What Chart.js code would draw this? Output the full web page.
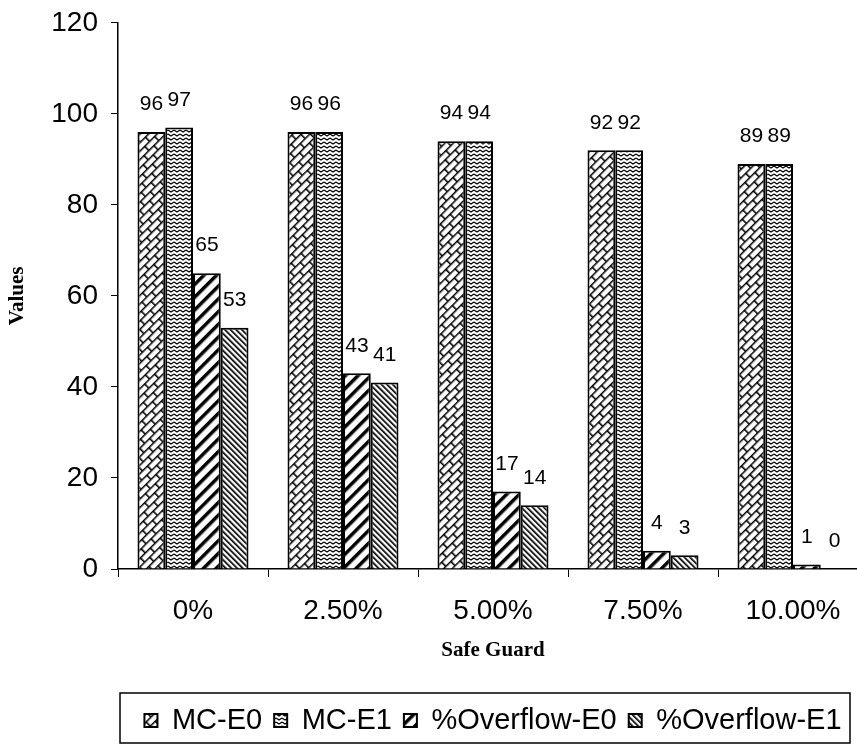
<!DOCTYPE html>
<html>
<head>
<meta charset="utf-8">
<script src="https://cdn.jsdelivr.net/npm/chart.js@4/dist/chart.umd.min.js"></script>
<style>
  html, body { margin: 0; padding: 0; background: #fff; }
  #wrap { width: 857px; height: 745px; overflow: hidden; }
  #myChart { display: block; margin-top: -7px; }
</style>
</head>
<body>
<div id="wrap"><canvas id="myChart" width="870" height="752"></canvas></div>
<script>
'use strict';
// data
let categories = ['0%', '2.50%', '5.00%', '7.50%', '10.00%'];
let seriesNames = ['MC-E0', 'MC-E1', '%Overflow-E0', '%Overflow-E1'];
let mcE0 = [96, 96, 94, 92, 89];
let mcE1 = [97, 96, 94, 92, 89];
let overflowE0 = [65, 43, 17, 4, 1];
let overflowE1 = [53, 41, 14, 3, 0];
let yTicks = [0, 20, 40, 60, 80, 100, 120];

let canvas = document.getElementById('myChart');
let ctx = canvas.getContext('2d');
let sans = '"Liberation Sans", Arial, sans-serif';
let serif = '"Liberation Serif", "Times New Roman", serif';

// hatch fills, black on white like the printed figure
function makePattern(kind) {
  let c = document.createElement('canvas');
  let g;
  let angle = 0;
  if (kind === 'brick') {
    c.width = 14; c.height = 12;
    g = c.getContext('2d');
    g.fillStyle = '#fff'; g.fillRect(0, 0, 14, 12);
    g.strokeStyle = '#000'; g.lineWidth = 1.6;
    g.beginPath();
    g.moveTo(0, 0.8); g.lineTo(14, 0.8);
    g.moveTo(0, 6.8); g.lineTo(14, 6.8);
    g.moveTo(0.8, 0); g.lineTo(0.8, 6.8);
    g.moveTo(7.8, 6.8); g.lineTo(7.8, 12);
    g.stroke();
    angle = -45;
  } else if (kind === 'wave') {
    c.width = 6; c.height = 4;
    g = c.getContext('2d');
    g.fillStyle = '#fff'; g.fillRect(0, 0, 6, 4);
    g.strokeStyle = '#000'; g.lineWidth = 1.2;
    g.beginPath();
    g.moveTo(0, 1); g.lineTo(3, 3); g.lineTo(6, 1);
    g.stroke();
  } else if (kind === 'wide') {
    c.width = 9; c.height = 9;
    g = c.getContext('2d');
    g.fillStyle = '#fff'; g.fillRect(0, 0, 9, 9);
    g.fillStyle = '#000'; g.fillRect(0, 0, 3.5, 9);
    angle = 45;
  } else {
    c.width = 4; c.height = 4;
    g = c.getContext('2d');
    g.fillStyle = '#fff'; g.fillRect(0, 0, 4, 4);
    g.fillStyle = '#000'; g.fillRect(0, 0, 1.7, 4);
    angle = -45;
  }
  let p = ctx.createPattern(c, 'repeat');
  if (angle) p.setTransform(new DOMMatrix().rotateSelf(angle));
  return p;
}

let fills = [makePattern('brick'), makePattern('wave'), makePattern('wide'), makePattern('dense')];
let values = [mcE0, mcE1, overflowE0, overflowE1];

let datasets = [];
for (let i = 0; i < seriesNames.length; i++) {
  datasets.push({
    label: seriesNames[i],
    data: values[i],
    backgroundColor: fills[i],
    borderColor: '#000',
    borderWidth: 2,
    borderSkipped: 'bottom'
  });
}

// numbers over the bars
let barLabels = {
  id: 'barLabels',
  afterDatasetsDraw(chart) {
    let c = chart.ctx;
    c.save();
    c.font = '21px ' + sans;
    c.fillStyle = '#000';
    c.textAlign = 'center';
    c.textBaseline = 'bottom';
    chart.data.datasets.forEach(function (ds, i) {
      let meta = chart.getDatasetMeta(i);
      meta.data.forEach(function (bar, j) {
        c.fillText(String(ds.data[j]), bar.x, bar.y - 17);
      });
    });
    c.restore();
  }
};

// frame round the legend
let legendFrame = {
  id: 'legendFrame',
  afterDraw(chart) {
    let l = chart.legend;
    let c = chart.ctx;
    c.save();
    c.strokeStyle = '#000';
    c.lineWidth = 1.5;
    c.strokeRect(l.left + 2, l.top - 1, chart.width - 20 - (l.left + 2), 50);
    c.restore();
  }
};

let myChart = new Chart(ctx, {
  type: 'bar',
  data: { labels: categories, datasets: datasets },
  plugins: [barLabels, legendFrame],
  options: {
    responsive: false,
    animation: false,
    layout: { padding: { top: 0, right: 2, left: 0, bottom: 0 } },
    datasets: { bar: { categoryPercentage: 0.74, barPercentage: 1 } },
    plugins: {
      tooltip: { enabled: false },
      legend: {
        position: 'bottom',
        fullSize: false,
        labels: {
          color: '#000',
          font: { family: sans, size: 29, lineHeight: 1.1 },
          boxWidth: 13,
          boxHeight: 13,
          padding: 12
        }
      }
    },
    scales: {
      x: {
        afterFit: function (scale) { scale.height = 125; },
        grid: { display: true, drawOnChartArea: false, color: '#000', tickLength: 8, offset: true },
        border: { color: '#000', width: 1.5 },
        ticks: { color: '#000', padding: 17, font: { family: sans, size: 28 } },
        title: {
          display: true, text: 'Safe Guard', color: '#000',
          font: { family: serif, size: 21, weight: 'bold' },
          padding: { top: 0, bottom: 31 }
        }
      },
      y: {
        min: 0, max: 120,
        afterBuildTicks: function (scale) { scale.ticks = yTicks.map(function (v) { return { value: v }; }); },
        afterFit: function (scale) { scale.width = 118; },
        grid: { display: true, drawOnChartArea: false, color: '#000', tickLength: 7 },
        border: { color: '#000', width: 1.5 },
        ticks: { color: '#000', padding: 13, font: { family: sans, size: 28 } },
        title: {
          display: true, text: 'Values', color: '#000',
          font: { family: serif, size: 21, weight: 'bold' },
          padding: { top: 5, bottom: 20 }
        }
      }
    }
  }
});
</script>
</body>
</html>
